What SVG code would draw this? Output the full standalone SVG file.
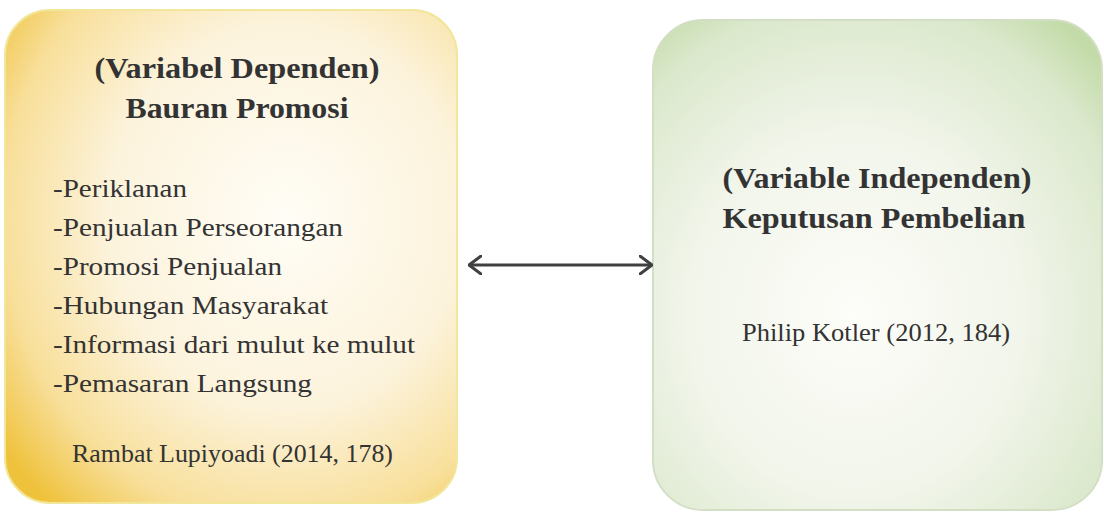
<svg xmlns="http://www.w3.org/2000/svg" width="1104" height="513" viewBox="0 0 1104 513">
<style>
text{font-family:"Liberation Serif","Times New Roman",serif;fill:#333}
.t{font-weight:bold;font-size:30px}
.i{font-size:25px}
</style>
<defs>
<radialGradient id="gy" cx="0.62" cy="0.42" r="0.78">
<stop offset="0" stop-color="#fffdf6"/>
<stop offset="0.5" stop-color="#fcf3dc"/>
<stop offset="0.8" stop-color="#f8df9a"/>
<stop offset="1" stop-color="#efc23c"/>
</radialGradient>
<radialGradient id="gg" cx="0.45" cy="0.6" r="0.75">
<stop offset="0" stop-color="#fdfdf9"/>
<stop offset="0.5" stop-color="#f1f5ea"/>
<stop offset="0.85" stop-color="#dbe8cc"/>
<stop offset="1" stop-color="#c3dba8"/>
</radialGradient>
<marker id="ah" viewBox="0 0 14 20" refX="13" refY="10" markerWidth="14" markerHeight="20" markerUnits="userSpaceOnUse" orient="auto-start-reverse">
<path d="M1,1 L13,10 L1,19" fill="none" stroke="#404040" stroke-width="3" stroke-linejoin="round" stroke-linecap="round"/>
</marker>
</defs>
<rect width="1104" height="513" fill="#ffffff"/>
<g id="node-left">
<rect x="5" y="10" width="452" height="493" rx="45" fill="url(#gy)" stroke="#f1e69a" stroke-width="2"/>
<text class="t" x="237" y="78" text-anchor="middle" textLength="285" lengthAdjust="spacingAndGlyphs">(Variabel Dependen)</text>
<text class="t" x="237" y="118" text-anchor="middle" textLength="223" lengthAdjust="spacingAndGlyphs">Bauran Promosi</text>
<text class="i" x="53" y="197" textLength="134" lengthAdjust="spacingAndGlyphs">-Periklanan</text>
<text class="i" x="53" y="236" textLength="290" lengthAdjust="spacingAndGlyphs">-Penjualan Perseorangan</text>
<text class="i" x="53" y="275" textLength="229" lengthAdjust="spacingAndGlyphs">-Promosi Penjualan</text>
<text class="i" x="53" y="314" textLength="275" lengthAdjust="spacingAndGlyphs">-Hubungan Masyarakat</text>
<text class="i" x="53" y="353" textLength="362" lengthAdjust="spacingAndGlyphs">-Informasi dari mulut ke mulut</text>
<text class="i" x="53" y="392" textLength="259" lengthAdjust="spacingAndGlyphs">-Pemasaran Langsung</text>
<text class="i" x="72" y="462" textLength="321" lengthAdjust="spacingAndGlyphs">Rambat Lupiyoadi (2014, 178)</text>
</g>
<g id="node-right">
<rect x="653" y="20" width="449" height="490" rx="50" fill="url(#gg)" stroke="#d3dfc4" stroke-width="2"/>
<text class="t" x="877" y="188" text-anchor="middle" textLength="309" lengthAdjust="spacingAndGlyphs">(Variable Independen)</text>
<text class="t" x="874" y="228" text-anchor="middle" textLength="303" lengthAdjust="spacingAndGlyphs">Keputusan Pembelian</text>
<text class="i" x="876" y="341" text-anchor="middle" textLength="268" lengthAdjust="spacingAndGlyphs">Philip Kotler (2012, 184)</text>
</g>
<g id="connectors">
<line x1="469" y1="265" x2="652" y2="265" stroke="#404040" stroke-width="3" marker-start="url(#ah)" marker-end="url(#ah)"/>
</g>
</svg>
